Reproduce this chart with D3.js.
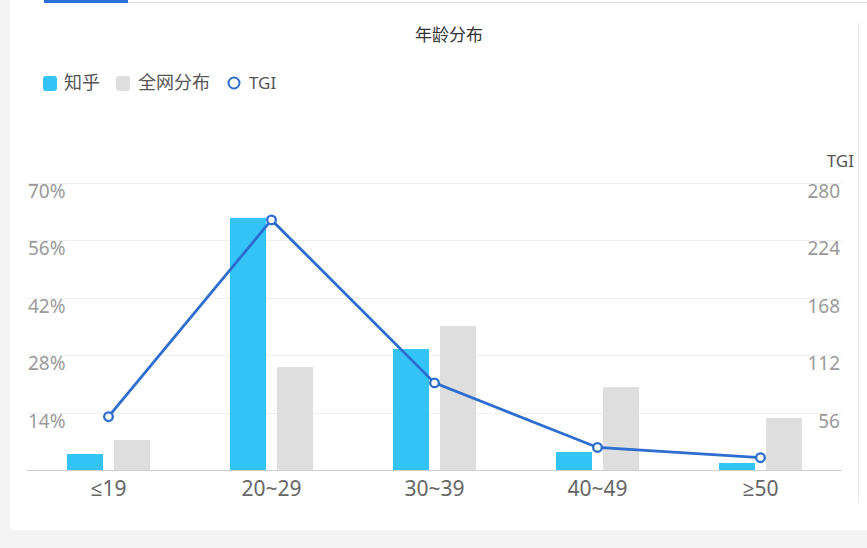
<!DOCTYPE html>
<html>
<head>
<meta charset="utf-8">
<script src="https://cdn.jsdelivr.net/npm/d3@7"></script>
<style>
  html, body { margin: 0; padding: 0; background: #f4f4f5; }
  svg { display: block; font-family: "Microsoft YaHei", "Noto Sans CJK SC", "Noto Sans", sans-serif; }
  .num { font-family: "Noto Sans", "Open Sans", "DejaVu Sans", sans-serif; }
</style>
</head>
<body>
<div id="chart"></div>
<script>
// data
const categories = ['≤19', '20~29', '30~39', '40~49', '≥50'];
const seriesNames = ['知乎', '全网分布', 'TGI'];
const zhihu = [3.9, 61.5, 29.5, 4.4, 1.7];     // %
const allNet = [7.3, 25.1, 35.1, 20.2, 12.7];  // %
const tgi = [52, 244, 85, 22, 12];
const pctTicks = [0, 14, 28, 42, 56, 70];
const tgiTicks = [0, 56, 112, 168, 224, 280];

const W = 867, H = 548;
const plot = {left: 27, right: 842, top: 183, bottom: 470};
const colors = {zhihu: '#33c3f6', all: '#dedede', line: '#2c6dcf'};

const svg = d3.select('#chart').append('svg')
    .attr('width', W)
    .attr('height', H);

// card background
svg.append('rect').attr('x', 10).attr('y', 0).attr('width', W - 10).attr('height', 530).attr('fill', '#fff');
svg.append('line').attr('x1', 128).attr('x2', W).attr('y1', 2.5).attr('y2', 2.5).attr('stroke', '#dcdcdc');
svg.append('rect').attr('x', 44).attr('y', 0).attr('width', 84).attr('height', 3).attr('fill', '#2a6fd6');
svg.append('line').attr('x1', 858.5).attr('x2', 858.5).attr('y1', 23).attr('y2', 502).attr('stroke', '#e6e6e6');

// title
svg.append('text')
    .attr('x', 449).attr('y', 41)
    .attr('text-anchor', 'middle')
    .attr('font-size', 17)
    .attr('fill', '#333')
    .text('年龄分布');

// legend
const legend = svg.append('g').attr('font-size', 18).attr('fill', '#555');
legend.append('rect').attr('x', 43).attr('y', 76).attr('width', 14).attr('height', 15).attr('rx', 3).attr('fill', colors.zhihu);
legend.append('text').attr('x', 64).attr('y', 89).text(seriesNames[0]);
legend.append('rect').attr('x', 116).attr('y', 76).attr('width', 14).attr('height', 15).attr('rx', 3).attr('fill', colors.all);
legend.append('text').attr('x', 138).attr('y', 89).text(seriesNames[1]);
legend.append('circle').attr('cx', 234).attr('cy', 83).attr('r', 5.5).attr('fill', '#fff').attr('stroke', colors.line).attr('stroke-width', 2);
legend.append('text').attr('class', 'num').attr('x', 249).attr('y', 89).attr('font-size', 17).text(seriesNames[2]);

// scales
const x = d3.scaleBand().domain(categories).range([plot.left, plot.right]);
const xInner = d3.scaleBand().domain(['zhihu', 'all']).range([0, x.bandwidth()])
    .paddingInner(0.234).paddingOuter(0.85);
const yPct = d3.scaleLinear().domain([0, 70]).range([plot.bottom, plot.top]);
const yTgi = d3.scaleLinear().domain([0, 280]).range([plot.bottom, plot.top]);

// grid lines
svg.append('g').selectAll('line')
    .data(pctTicks.slice(1))
    .join('line')
    .attr('x1', plot.left).attr('x2', plot.right)
    .attr('y1', d => Math.round(yPct(d)) + 0.5)
    .attr('y2', d => Math.round(yPct(d)) + 0.5)
    .attr('stroke', '#efefef');

// left tick labels
svg.append('g').selectAll('text')
    .data(pctTicks.slice(1))
    .join('text')
    .attr('class', 'num')
    .attr('x', 28)
    .attr('y', d => yPct(d) + 15)
    .attr('font-size', 19)
    .attr('fill', '#9a9a9a')
    .text(d => d + '%');

// right tick labels
svg.append('g').selectAll('text')
    .data(tgiTicks.slice(1))
    .join('text')
    .attr('class', 'num')
    .attr('x', 840)
    .attr('y', d => yTgi(d) + 15)
    .attr('text-anchor', 'end')
    .attr('font-size', 19)
    .attr('fill', '#9a9a9a')
    .text(d => d);

svg.append('text')
    .attr('class', 'num')
    .attr('x', 854).attr('y', 167)
    .attr('text-anchor', 'end')
    .attr('font-size', 17)
    .attr('fill', '#555')
    .text('TGI');

// bars
const barData = categories.flatMap((c, i) => [
    {cat: c, key: 'zhihu', value: zhihu[i]},
    {cat: c, key: 'all', value: allNet[i]}
]);
svg.append('g').selectAll('rect')
    .data(barData)
    .join('rect')
    .attr('x', d => x(d.cat) + xInner(d.key))
    .attr('y', d => yPct(d.value))
    .attr('width', xInner.bandwidth())
    .attr('height', d => plot.bottom - yPct(d.value))
    .attr('fill', d => colors[d.key]);

// x axis
const xAxis = svg.append('g')
    .attr('transform', `translate(0,${plot.bottom})`)
    .call(d3.axisBottom(x).tickSize(0).tickPadding(11));
xAxis.select('.domain').attr('stroke', '#cfcfcf').attr('d', `M${plot.left},0.5H${plot.right}`);
xAxis.selectAll('text')
    .attr('class', 'num')
    .attr('font-size', 21)
    .attr('fill', '#666')
    .attr('font-family', null);

// TGI line
const linePts = categories.map((c, i) => [x(c) + x.bandwidth() / 2, yTgi(tgi[i])]);
svg.append('path')
    .attr('d', d3.line()(linePts))
    .attr('fill', 'none')
    .attr('stroke', colors.line)
    .attr('stroke-width', 2.8);
svg.append('g').selectAll('circle')
    .data(linePts)
    .join('circle')
    .attr('cx', d => d[0])
    .attr('cy', d => d[1])
    .attr('r', 4.3)
    .attr('fill', '#fff')
    .attr('stroke', colors.line)
    .attr('stroke-width', 2.3);
</script>
</body>
</html>
